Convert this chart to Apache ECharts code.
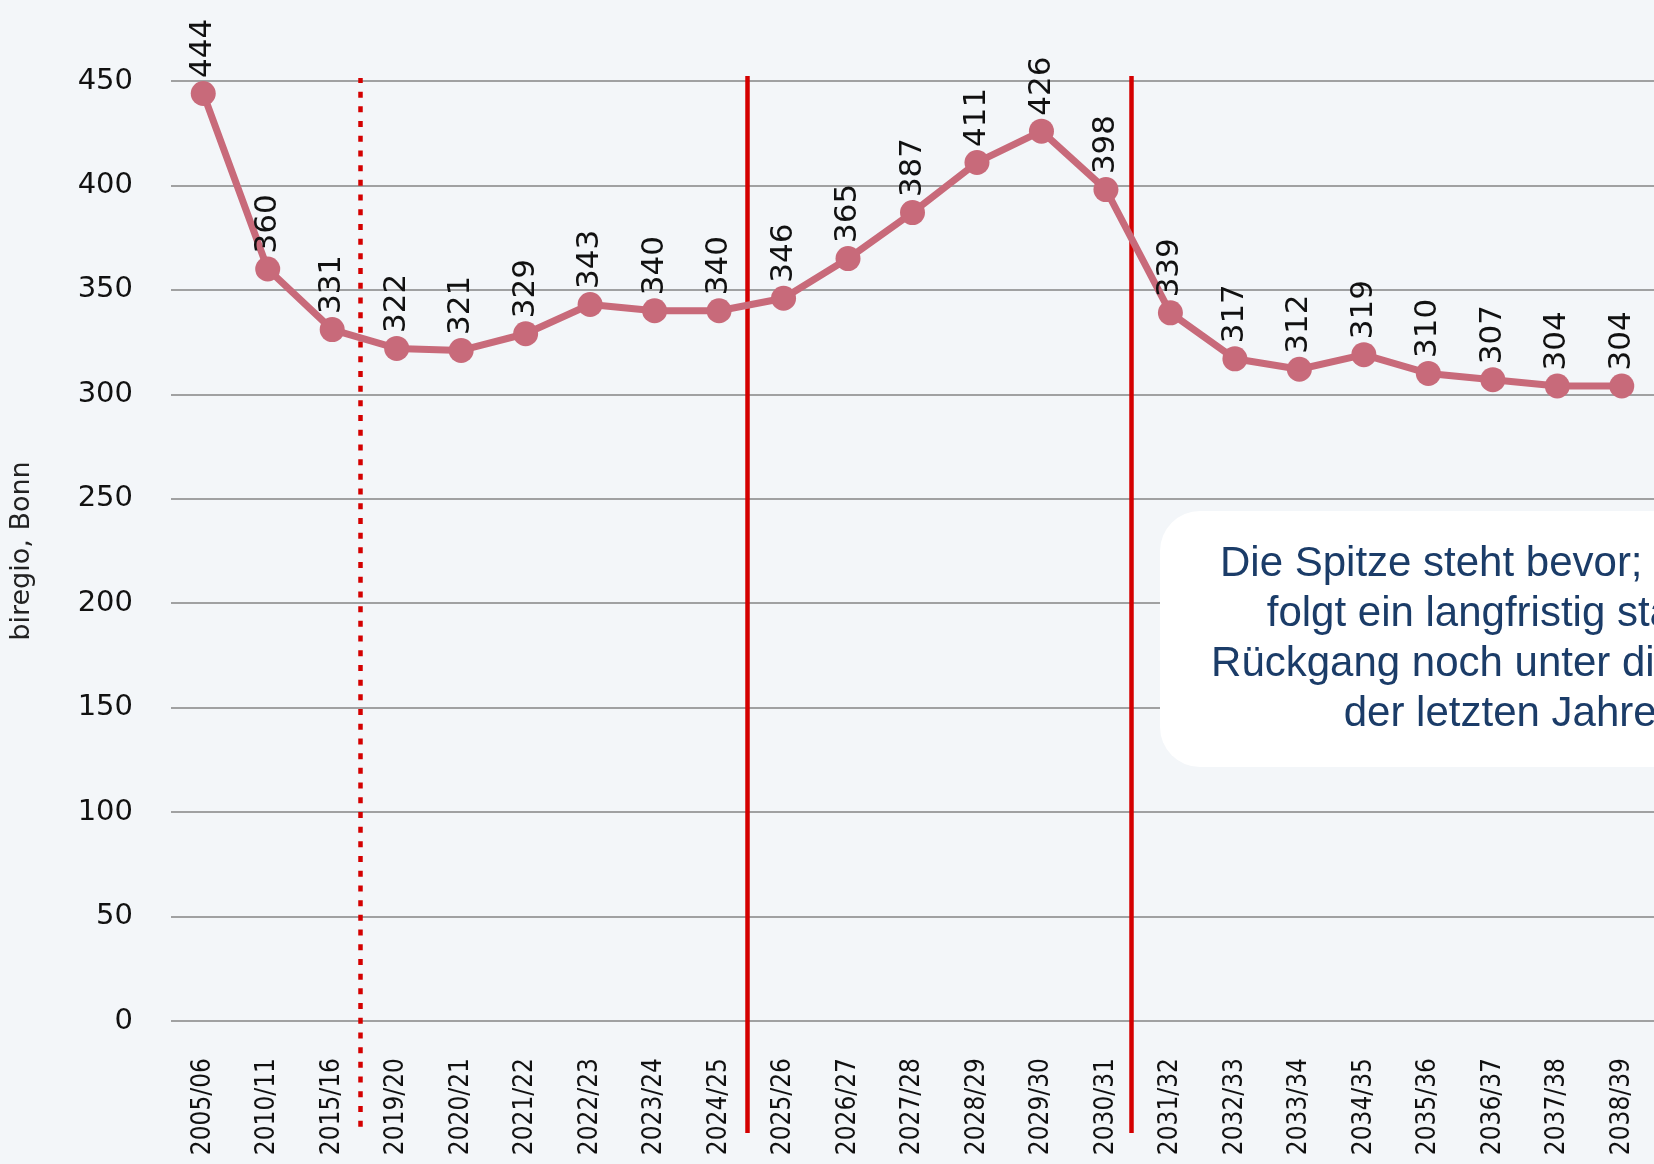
<!DOCTYPE html>
<html>
<head>
<meta charset="utf-8">
<script src="https://cdn.jsdelivr.net/npm/echarts@6/dist/echarts.min.js"></script>
<style>
  html, body { margin: 0; padding: 0; background: #f3f6f9; }
  #container { width: 1654px; height: 1164px; }
</style>
</head>
<body>
<div id="container"></div>
<script>
const years = ['2005/06', '2010/11', '2015/16', '2019/20', '2020/21', '2021/22', '2022/23', '2023/24',
  '2024/25', '2025/26', '2026/27', '2027/28', '2028/29', '2029/30', '2030/31', '2031/32', '2032/33',
  '2033/34', '2034/35', '2035/36', '2036/37', '2037/38', '2038/39']
const values = [444, 360, 331, 322, 321, 329, 343, 340, 340, 346, 365, 387, 411, 426, 398,
  339, 317, 312, 319, 310, 307, 304, 304]

// divider lines between the periods (position in category index units)
const dividerPos = [2.43, 8.44, 14.39]
const dividerDotted = [true, false, false]

const noteLines = [
  'Die Spitze steht bevor; danach',
  'folgt ein langfristig starker',
  'Rückgang noch unter die Werte',
  'der letzten Jahre.'
]

const dom = document.getElementById('container')
const myChart = echarts.init(dom)

const font = '"DejaVu Sans", sans-serif'

const dividerLines = dividerPos.map((pos, i) => {
  const dotted = dividerDotted[i]
  return [
    { coord: [pos, dotted ? 0.006 : 0] },
    {
      coord: [pos, dotted ? 0.998 : 1],
      lineStyle: dotted
        ? { type: [6, 8.7], width: 4.5, color: '#d40000' }
        : { type: 'solid', width: 4.5, color: '#d40000' }
    }
  ]
})

const option = {
  backgroundColor: '#f3f6f9',
  animation: false,
  grid: [
    { left: 171, right: -8.5, top: 81, bottom: 143 },
    { left: 171, right: -8.5, top: 76, bottom: 31 }
  ],
  xAxis: [
    {
      type: 'category',
      data: years,
      gridIndex: 0,
      boundaryGap: true,
      axisLine: { show: false },
      axisTick: { show: false },
      axisLabel: {
        rotate: 90,
        margin: 37,
        color: '#111',
        fontFamily: '"DejaVu Sans Condensed", "DejaVu Sans", sans-serif',
        fontSize: 26
      }
    },
    { type: 'value', gridIndex: 1, min: -0.5, max: 22.5, show: false }
  ],
  yAxis: [
    {
      type: 'value',
      gridIndex: 0,
      min: 0,
      max: 450,
      interval: 50,
      name: 'biregio, Bonn',
      nameLocation: 'middle',
      nameRotate: 90,
      nameGap: 136,
      nameTextStyle: { color: '#222', fontFamily: font, fontSize: 27 },
      axisLine: { show: false },
      axisTick: { show: false },
      axisLabel: { margin: 38, color: '#111', fontFamily: font, fontSize: 29 },
      splitLine: { lineStyle: { color: '#858585', width: 1.5 } }
    },
    { type: 'value', gridIndex: 1, min: 0, max: 1, show: false }
  ],
  series: [
    {
      type: 'line',
      xAxisIndex: 0,
      yAxisIndex: 0,
      data: values,
      symbol: 'circle',
      symbolSize: 25,
      z: 5,
      lineStyle: { color: '#c86a7a', width: 7 },
      itemStyle: { color: '#c86a7a' },
      label: {
        show: true,
        position: 'top',
        rotate: 90,
        align: 'left',
        verticalAlign: 'middle',
        distance: 9,
        offset: [-6, 0],
        color: '#111',
        fontFamily: font,
        fontSize: 31
      }
    },
    {
      type: 'line',
      xAxisIndex: 1,
      yAxisIndex: 1,
      data: [[0, -5]],
      showSymbol: false,
      silent: true,
      z: 4,
      lineStyle: { opacity: 0 },
      markLine: {
        silent: true,
        symbol: ['none', 'none'],
        label: { show: false },
        data: dividerLines
      }
    }
  ],
  graphic: [
    {
      type: 'rect',
      left: 1160,
      top: 511,
      z: 10,
      shape: { width: 684, height: 256, r: 40 },
      style: { fill: '#ffffff' }
    },
    {
      type: 'text',
      x: 1506,
      y: 639,
      z: 11,
      style: {
        text: noteLines.join('\n'),
        font: '42px "Liberation Sans", Arial, sans-serif',
        fill: '#1b3c68',
        align: 'center',
        verticalAlign: 'middle',
        lineHeight: 50
      }
    }
  ]
}

myChart.setOption(option)
</script>
</body>
</html>
